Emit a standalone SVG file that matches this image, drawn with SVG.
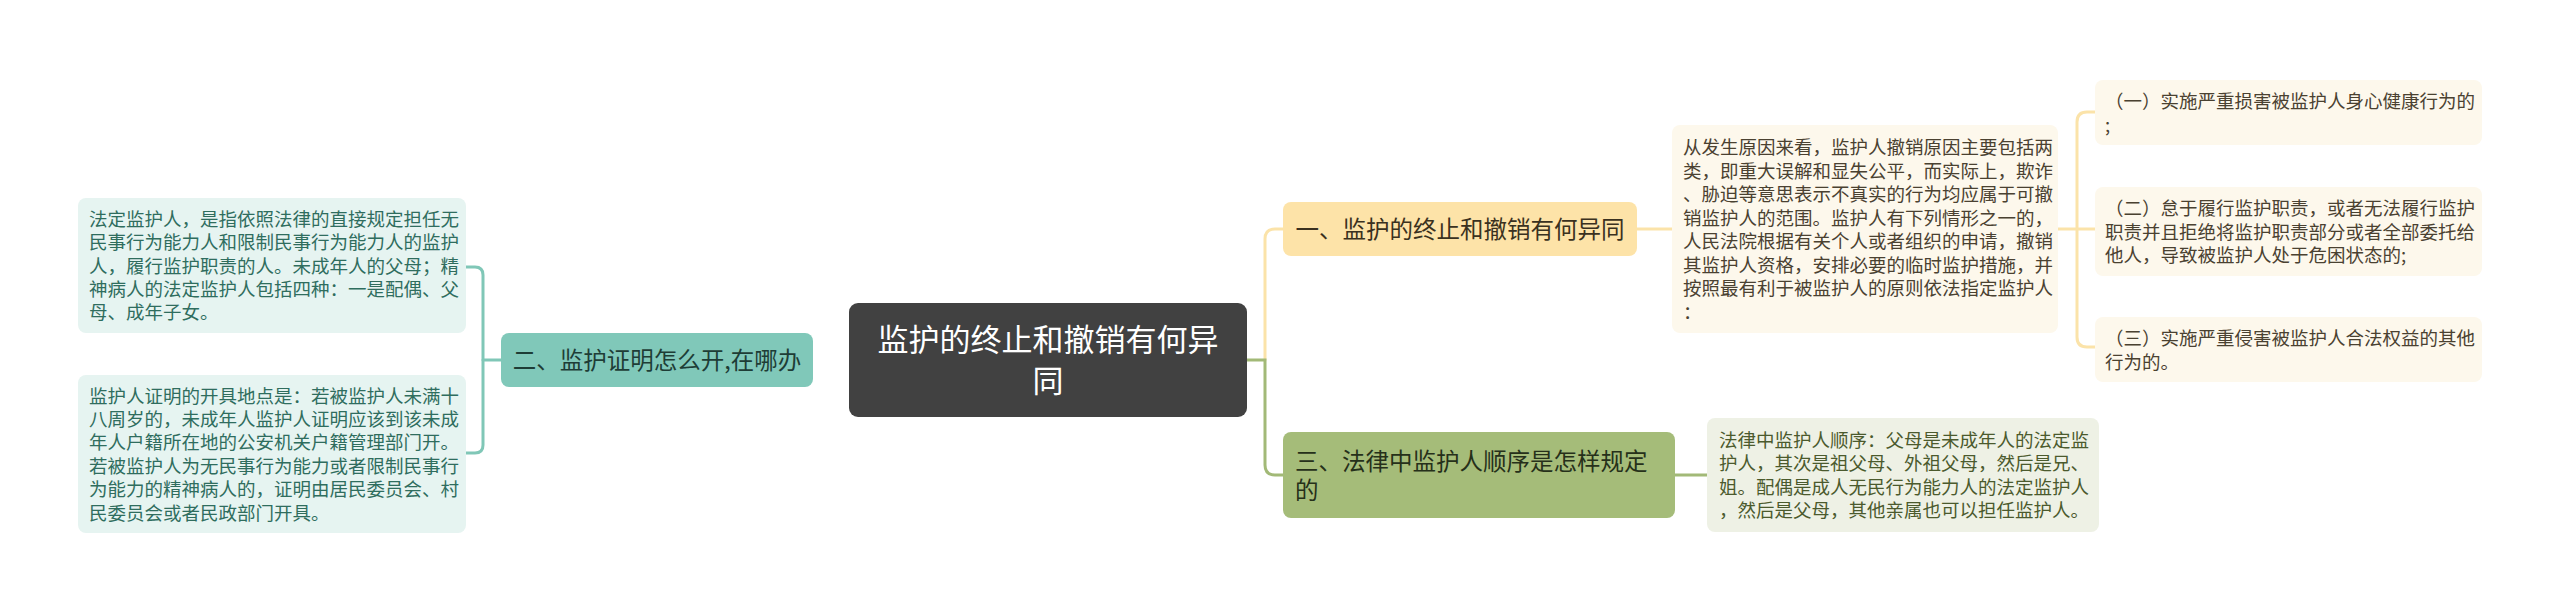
<svg xmlns="http://www.w3.org/2000/svg" width="2560" height="613" viewBox="0 0 2560 613">
<style>
text{font-family:"Noto Sans CJK SC","Noto Sans",sans-serif;}
.leaf{font-size:18.5px;}
.br{font-size:23.5px;}
.conn{fill:none;stroke-width:3;stroke-linecap:round;}
.teal{stroke:#80c7b7;}
.yel{stroke:#fbe3a9;}
.grn{stroke:#a2b977;}
</style>
<rect width="2560" height="613" fill="#ffffff"/>
<g id="connectors">
<path class="conn teal" d="M501 360 H483"/>
<path class="conn teal" d="M466 267 H475 Q483 267 483 275 V445 Q483 453 475 453 H466"/>
<path class="conn yel" d="M1265 360 V239 Q1265 229 1275 229 H1283"/>
<path class="conn grn" d="M1247 360 H1265 V465 Q1265 475 1275 475 H1283"/>
<path class="conn yel" d="M1637 229 H1672"/>
<path class="conn yel" d="M2058 229 H2095"/>
<path class="conn yel" d="M2095 112 H2087 Q2077 112 2077 122 V337 Q2077 347 2087 347 H2095"/>
<path class="conn grn" d="M1675 475 H1707"/>
</g>
<g id="root">
<rect x="849" y="303" width="398" height="114" rx="9" fill="#414141"/>
<text x="1048" y="351" font-size="31" fill="#ffffff" text-anchor="middle">监护的终止和撤销有何异</text>
<text x="1048" y="392" font-size="31" fill="#ffffff" text-anchor="middle">同</text>
</g>
<g id="branch2">
<rect x="501" y="333" width="312" height="54" rx="8" fill="#80c8b9"/>
<text class="br" x="657" y="369" fill="#1e3d36" text-anchor="middle">二、监护证明怎么开,在哪办</text>
</g>
<g id="leaf2a">
<rect x="78" y="198" width="388" height="135" rx="8" fill="#e6f4f1"/>
<text class="leaf" fill="#2f6d5e"><tspan x="89" y="225.7">法定监护人，是指依照法律的直接规定担任无</tspan><tspan x="89" y="249.1">民事行为能力人和限制民事行为能力人的监护</tspan><tspan x="89" y="272.5">人，履行监护职责的人。未成年人的父母；精</tspan><tspan x="89" y="295.9">神病人的法定监护人包括四种：一是配偶、父</tspan><tspan x="89" y="319.3">母、成年子女。</tspan></text>
</g>
<g id="leaf2b">
<rect x="78" y="375" width="388" height="158" rx="8" fill="#e6f4f1"/>
<text class="leaf" fill="#2f6d5e"><tspan x="89" y="402.5">监护人证明的开具地点是：若被监护人未满十</tspan><tspan x="89" y="425.9">八周岁的，未成年人监护人证明应该到该未成</tspan><tspan x="89" y="449.3">年人户籍所在地的公安机关户籍管理部门开。</tspan><tspan x="89" y="472.7">若被监护人为无民事行为能力或者限制民事行</tspan><tspan x="89" y="496.1">为能力的精神病人的，证明由居民委员会、村</tspan><tspan x="89" y="519.5">民委员会或者民政部门开具。</tspan></text>
</g>
<g id="branch1">
<rect x="1283" y="202" width="354" height="54" rx="8" fill="#fde3a8"/>
<text class="br" x="1460" y="238" fill="#3a3120" text-anchor="middle">一、监护的终止和撤销有何异同</text>
</g>
<g id="leaf1">
<rect x="1672" y="125" width="386" height="208" rx="8" fill="#fdf8ec"/>
<text class="leaf" fill="#4a4131"><tspan x="1683" y="154">从发生原因来看，监护人撤销原因主要包括两</tspan><tspan x="1683" y="177.5">类，即重大误解和显失公平，而实际上，欺诈</tspan><tspan x="1683" y="201">、胁迫等意思表示不真实的行为均应属于可撤</tspan><tspan x="1683" y="224.5">销监护人的范围。监护人有下列情形之一的，</tspan><tspan x="1683" y="248">人民法院根据有关个人或者组织的申请，撤销</tspan><tspan x="1683" y="271.5">其监护人资格，安排必要的临时监护措施，并</tspan><tspan x="1683" y="295">按照最有利于被监护人的原则依法指定监护人</tspan><tspan x="1683" y="318.5">：</tspan></text>
</g>
<g id="sub1">
<rect x="2095" y="80" width="387" height="65" rx="8" fill="#fdf8ec"/>
<text class="leaf" fill="#4a4131"><tspan x="2105" y="108">（一）实施严重损害被监护人身心健康行为的</tspan><tspan x="2105" y="131.5">;</tspan></text>
</g>
<g id="sub2">
<rect x="2095" y="187" width="387" height="89" rx="8" fill="#fdf8ec"/>
<text class="leaf" fill="#4a4131"><tspan x="2105" y="215">（二）怠于履行监护职责，或者无法履行监护</tspan><tspan x="2105" y="238.5">职责并且拒绝将监护职责部分或者全部委托给</tspan><tspan x="2105" y="262">他人，导致被监护人处于危困状态的;</tspan></text>
</g>
<g id="sub3">
<rect x="2095" y="317" width="387" height="65" rx="8" fill="#fdf8ec"/>
<text class="leaf" fill="#4a4131"><tspan x="2105" y="345">（三）实施严重侵害被监护人合法权益的其他</tspan><tspan x="2105" y="368.5">行为的。</tspan></text>
</g>
<g id="branch3">
<rect x="1283" y="432" width="392" height="86" rx="8" fill="#a5bc79"/>
<text class="br" fill="#26301a"><tspan x="1295" y="470">三、法律中监护人顺序是怎样规定</tspan><tspan x="1295" y="499">的</tspan></text>
</g>
<g id="leaf3">
<rect x="1707" y="418" width="392" height="114" rx="8" fill="#eef1e5"/>
<text class="leaf" fill="#4b5a2d"><tspan x="1719" y="446.7">法律中监护人顺序：父母是未成年人的法定监</tspan><tspan x="1719" y="470.2">护人，其次是祖父母、外祖父母，然后是兄、</tspan><tspan x="1719" y="493.7">姐。配偶是成人无民行为能力人的法定监护人</tspan><tspan x="1719" y="517.2">，然后是父母，其他亲属也可以担任监护人。</tspan></text>
</g>
</svg>
